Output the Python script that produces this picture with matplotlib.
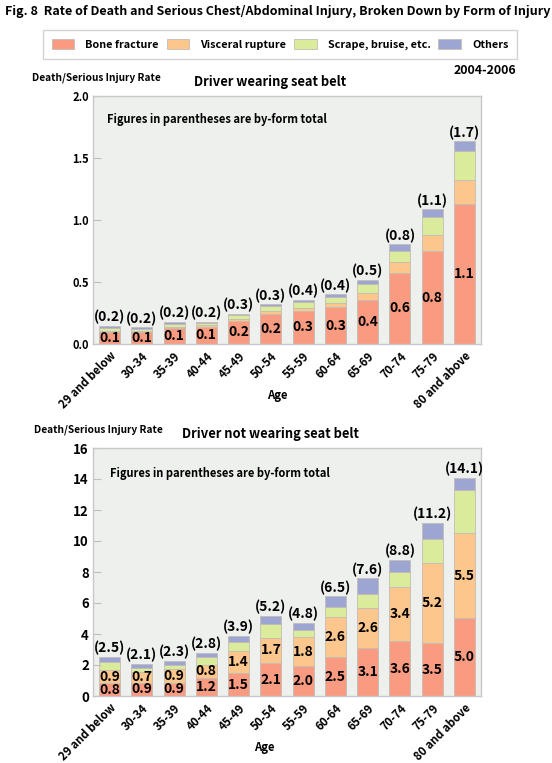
import matplotlib
matplotlib.use('Agg')
import matplotlib.pyplot as plt
import numpy as np

# Age groups
ages = ['29 and below', '30-34', '35-39', '40-44', '45-49', '50-54',
        '55-59', '60-64', '65-69', '70-74', '75-79', '80 and above']

# Driver wearing seat belt (rate per form of injury)
belt_bone = [0.096, 0.099, 0.126, 0.139, 0.187, 0.245, 0.270, 0.295, 0.355, 0.576, 0.747, 1.130]
belt_visceral = [0.011, 0.008, 0.011, 0.011, 0.016, 0.020, 0.020, 0.032, 0.059, 0.086, 0.134, 0.193]
belt_scrape = [0.024, 0.016, 0.027, 0.016, 0.027, 0.040, 0.050, 0.050, 0.072, 0.091, 0.142, 0.236]
belt_others = [0.016, 0.013, 0.013, 0.011, 0.013, 0.015, 0.016, 0.024, 0.030, 0.051, 0.062, 0.075]
belt_bone_labels = ['0.1', '0.1', '0.1', '0.1', '0.2', '0.2', '0.3', '0.3', '0.4', '0.6', '0.8', '1.1']
belt_total_labels = ['(0.2)', '(0.2)', '(0.2)', '(0.2)', '(0.3)', '(0.3)', '(0.4)', '(0.4)',
                     '(0.5)', '(0.8)', '(1.1)', '(1.7)']

# Driver not wearing seat belt
nobelt_bone = [0.82, 0.86, 0.86, 1.18, 1.46, 2.11, 1.94, 2.49, 3.08, 3.53, 3.40, 5.01]
nobelt_visceral = [0.86, 0.67, 0.86, 0.82, 1.44, 1.66, 1.85, 2.58, 2.58, 3.48, 5.20, 5.48]
nobelt_scrape = [0.54, 0.26, 0.28, 0.52, 0.60, 0.90, 0.47, 0.69, 0.90, 0.97, 1.51, 2.82]
nobelt_others = [0.30, 0.28, 0.28, 0.26, 0.39, 0.52, 0.47, 0.67, 1.03, 0.80, 1.08, 0.75]
nobelt_bone_labels = ['0.8', '0.9', '0.9', '1.2', '1.5', '2.1', '2.0', '2.5', '3.1', '3.6', '3.5', '5.0']
nobelt_visceral_labels = ['0.9', '0.7', '0.9', '0.8', '1.4', '1.7', '1.8', '2.6', '2.6', '3.4', '5.2', '5.5']
nobelt_total_labels = ['(2.5)', '(2.1)', '(2.3)', '(2.8)', '(3.9)', '(5.2)', '(4.8)', '(6.5)',
                       '(7.6)', '(8.8)', '(11.2)', '(14.1)']

forms = ['Bone fracture', 'Visceral rupture', 'Scrape, bruise, etc.', 'Others']
colors = ['#F99B80', '#FDC68C', '#DAEC9C', '#9DA6D3']

plt.rcParams['font.family'] = ['Noto Sans CJK JP', 'DejaVu Sans']
plt.rcParams['font.weight'] = 'bold'

W, H = 552, 763


def fx(px):
    return px / W


def fy(py):
    return 1 - py / H


fig = plt.figure(figsize=(W / 100, H / 100), dpi=100)


def draw_panel(ax, series, total_labels, seg_labels, ymax, yticks, yfmt, ytick_size):
    x = np.arange(len(ages))
    bottom = np.zeros(len(ages))
    handles = []
    for vals, c in zip(series, colors):
        b = ax.bar(x, vals, 0.65, bottom=bottom, color=c, edgecolor='#c4bcb6', linewidth=0.6)
        handles.append(b)
        bottom = bottom + np.array(vals)
    # labels inside segments
    seg_bottom = np.zeros(len(ages))
    for k, vals in enumerate(series):
        labs = seg_labels.get(k)
        if labs is not None:
            for i, (v, lab) in enumerate(zip(vals, labs)):
                ax.text(x[i], seg_bottom[i] + v / 2, lab, ha='center', va='center',
                        fontsize=10, clip_on=False)
        seg_bottom = seg_bottom + np.array(vals)
    for i, lab in enumerate(total_labels):
        ax.annotate(lab, (x[i], bottom[i]), xytext=(0, 1), textcoords='offset points',
                    ha='center', va='bottom', fontsize=10)

    ax.set_facecolor('#EEF0EE')
    ax.set_xlim(-0.51, len(ages) - 0.49)
    ax.set_ylim(0, ymax)
    ax.set_yticks(yticks)
    ax.set_yticklabels([yfmt.format(t) for t in yticks], fontsize=ytick_size)
    ax.set_xticks(x)
    ax.set_xticklabels(ages, rotation=45, ha='right', va='top', rotation_mode='anchor',
                       fontsize=8.2)
    ax.tick_params(axis='y', direction='in', length=6, color='#c0c0c0', pad=3)
    ax.tick_params(axis='x', length=0, pad=4)
    for s in ax.spines.values():
        s.set_color('#c8c8c8')
        s.set_linewidth(1)
    return handles


ax1 = fig.add_axes([fx(93), fy(344), (481 - 93) / W, (344 - 96) / H])
handles = draw_panel(ax1, [belt_bone, belt_visceral, belt_scrape, belt_others],
                     belt_total_labels, {0: belt_bone_labels},
                     2.0, [0.0, 0.5, 1.0, 1.5, 2.0], '{:.1f}', 8)

ax2 = fig.add_axes([fx(93), fy(696), (481 - 93) / W, (696 - 448) / H])
draw_panel(ax2, [nobelt_bone, nobelt_visceral, nobelt_scrape, nobelt_others],
           nobelt_total_labels, {0: nobelt_bone_labels, 1: nobelt_visceral_labels},
           16, list(range(0, 17, 2)), '{:d}', 9.5)

# title and texts
fig.text(fx(5), fy(11), 'Fig. 8  Rate of Death and Serious Chest/Abdominal Injury, Broken Down by Form of Injury',
         ha='left', va='center', fontsize=9.0)
fig.text(fx(516), fy(71), '2004-2006', ha='right', va='center', fontsize=8.9)

fig.text(fx(32), fy(78), 'Death/Serious Injury Rate', ha='left', va='center', fontsize=7.3)
fig.text(fx(270), fy(82), 'Driver wearing seat belt', ha='center', va='center', fontsize=9.3)
fig.text(fx(107), fy(120), 'Figures in parentheses are by-form total', ha='left', va='center', fontsize=8)
fig.text(fx(277), fy(396), 'Age', ha='center', va='center', fontsize=8.2)

fig.text(fx(34), fy(430), 'Death/Serious Injury Rate', ha='left', va='center', fontsize=7.3)
fig.text(fx(271), fy(434), 'Driver not wearing seat belt', ha='center', va='center', fontsize=9.3)
fig.text(fx(110), fy(473), 'Figures in parentheses are by-form total', ha='left', va='center', fontsize=8)
fig.text(fx(264), fy(747), 'Age', ha='center', va='center', fontsize=8.2)

leg = fig.legend(handles, forms, loc='center', ncol=4, mode='expand',
                 bbox_to_anchor=(fx(43), fy(61), 474 / W, 33 / H),
                 fontsize=7.8, handlelength=2.1, handleheight=1.05, handletextpad=1.0,
                 borderpad=0.8, borderaxespad=0, fancybox=False, framealpha=1)
leg.get_frame().set_edgecolor('#d4d4d4')
leg.get_frame().set_linewidth(1)

fig.savefig('out.png', dpi=100)
